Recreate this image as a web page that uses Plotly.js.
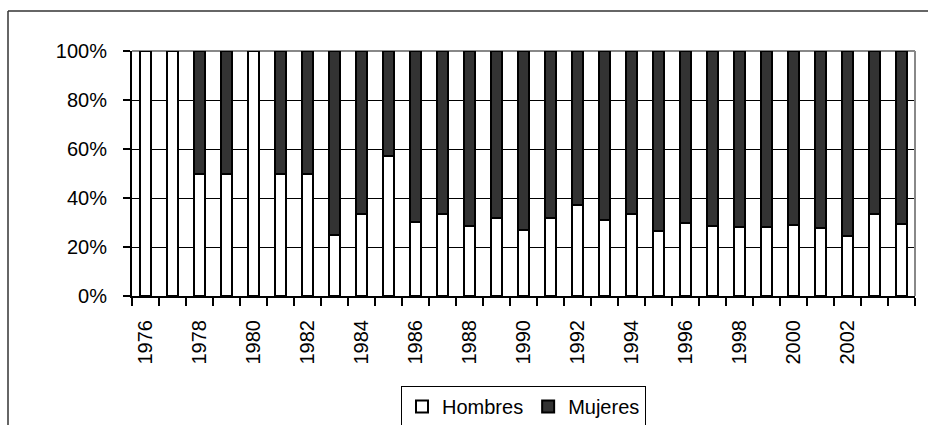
<!DOCTYPE html>
<html>
<head>
<meta charset="utf-8">
<script src="https://cdn.plot.ly/plotly-3.0.1.min.js"></script>
<style>
html,body{margin:0;padding:0;background:#fff;overflow:hidden;}
#chart{width:928px;height:425px;}
</style>
</head>
<body>
<div id="chart"></div>
<script>
var years = [1976,1977,1978,1979,1980,1981,1982,1983,1984,1985,1986,1987,1988,1989,1990,
             1991,1992,1993,1994,1995,1996,1997,1998,1999,2000,2001,2002,2003,2004];
var hombres = [100,100,50,50,100,50,50,25,33.3,57,30.3,33.3,28.5,32,26.9,
               32,37,31,33.3,26.5,30,28.5,28.1,28.1,28.8,27.8,24.6,33.3,29.5];
var mujeres = hombres.map(function(h){return 100 - h;});
var tickYears = [1976,1978,1980,1982,1984,1986,1988,1990,1992,1994,1996,1998,2000,2002];
var tickLabels = tickYears.map(String);
var yTicks = [0,20,40,60,80,100];
var yTickLabels = ['0%','20%','40%','60%','80%','100%'];

var font = {family:'Arial, "Liberation Sans", sans-serif', size:20, color:'#000'};

var traces = [
  {type:'bar', name:'Hombres', x:years, y:hombres,
   marker:{color:'#ffffff', line:{color:'#000', width:2}}, hoverinfo:'x+y'},
  {type:'bar', name:'Mujeres', x:years, y:mujeres,
   marker:{color:'#333333', line:{color:'#000', width:2}}, hoverinfo:'x+y'}
];

var L = 132, R = 13, T = 51, B = 129;
var W = 928 - L - R, H = 425 - T - B;
function px(x){return (x - L)/W;}
function py(y){return (425 - B - y)/H;}

var layout = {
  width:928, height:425,
  margin:{l:L, r:R, t:T, b:B, pad:0, autoexpand:false},
  paper_bgcolor:'#fff', plot_bgcolor:'#fff',
  barmode:'stack', bargap:0.58,
  font:font,
  showlegend:true,
  legend:{orientation:'h', x:0.5, xanchor:'center', y:py(386), yanchor:'top',
          bordercolor:'#000', borderwidth:1, font:font, bgcolor:'#fff',
          traceorder:'normal', itemwidth:30, tracegroupgap:0},
  xaxis:{type:'linear', range:[1975.5, 2004.5], tickmode:'array',
         tickvals:tickYears, ticktext:tickLabels, tickangle:-90,
         ticks:'', ticklen:0, showgrid:false, zeroline:false,
         showline:true, linecolor:'#000', linewidth:2,
         ticklabelstandoff:14,
         minor:{tickmode:'linear', tick0:1975.5, dtick:1, ticks:'outside',
                ticklen:8, tickcolor:'#000', tickwidth:2, showgrid:false},
         tickfont:font, fixedrange:true},
  yaxis:{range:[0,100], tickmode:'array', tickvals:yTicks, ticktext:yTickLabels,
         ticks:'outside', ticklen:7, tickwidth:2, tickcolor:'#000',
         showgrid:true, gridcolor:'#000', gridwidth:1, zeroline:false,
         showline:true, linecolor:'#000', linewidth:2,
         ticklabelstandoff:12, tickfont:font, fixedrange:true},
  shapes:[
    {type:'line', xref:'paper', yref:'paper', x0:0, x1:1, y0:1, y1:1,
     line:{color:'#888', width:2}, layer:'below'},
    {type:'line', xref:'paper', yref:'paper', x0:1, x1:1, y0:0, y1:1,
     line:{color:'#888', width:2}, layer:'above'},
    {type:'line', xref:'paper', yref:'paper', x0:px(8), x1:px(940), y0:py(11), y1:py(11),
     line:{color:'#333', width:1.5}},
    {type:'line', xref:'paper', yref:'paper', x0:px(8), x1:px(8), y0:py(11), y1:py(440),
     line:{color:'#333', width:1.5}}
  ]
};

Plotly.newPlot('chart', traces, layout, {displayModeBar:false, staticPlot:true});
</script>
</body>
</html>
